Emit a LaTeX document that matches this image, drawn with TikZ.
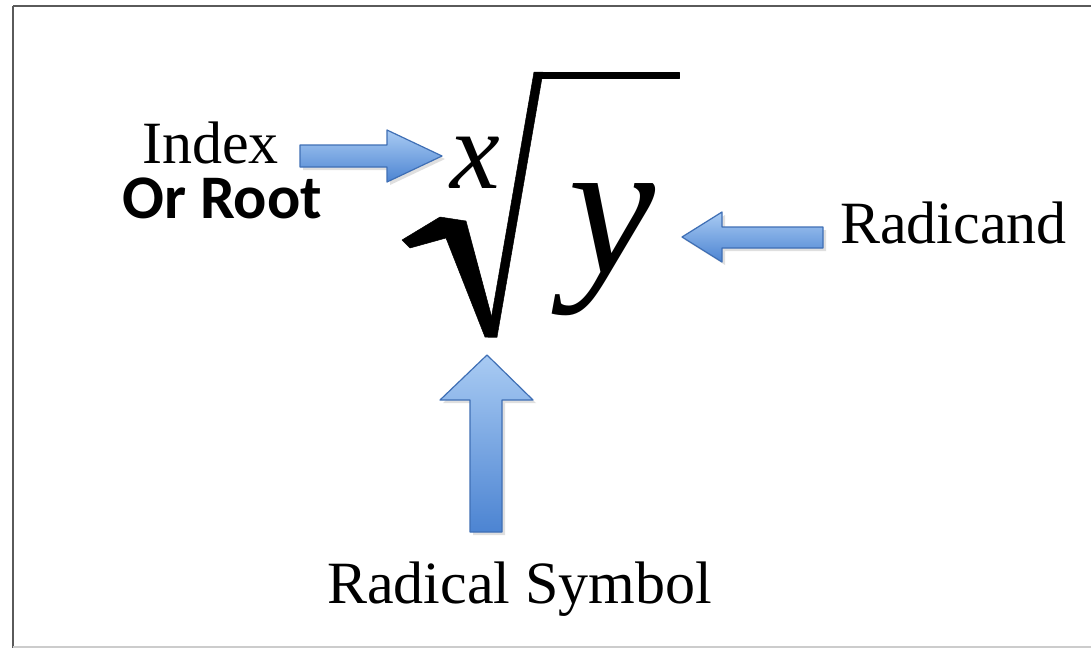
\documentclass[tikz,border=0pt]{standalone}
\usepackage{fontspec}
\setmainfont{Liberation Serif}
\newfontfamily\calib{Carlito}
\usetikzlibrary{shadows}
\definecolor{arrowlight}{HTML}{A9CBF3}
\definecolor{arrowdark}{HTML}{4C84D2}
\definecolor{arrowedge}{HTML}{3F6FB5}
\definecolor{framegray}{HTML}{5A5A5A}
\tikzset{
  lbl/.style={inner sep=0pt, anchor=base west, font=\fontsize{60}{72}\selectfont},
  blockarrow/.style={draw=arrowedge, line width=1.2pt, line join=round, top color=arrowlight, bottom color=arrowdark,
    drop shadow={opacity=0.25, shadow xshift=3pt, shadow yshift=-3pt}},
  radical/.style={fill=black, draw=black, line width=0.5pt, line join=round}
}
\begin{document}
\begin{tikzpicture}[x=1pt, y=-1pt]
\useasboundingbox (0,0) rectangle (1091,648);
\fill[white] (0,0) rectangle (1091,648);
\draw[framegray, line width=2.5pt] (13,6) -- (1095,6);
\draw[framegray, line width=2.5pt] (13,6) -- (13,648);
\draw[gray!40, line width=1.5pt] (13,647) -- (1095,647);

% labels
\node[lbl] (index) at (142,163) {Index};
\node[lbl, font=\calib\bfseries\fontsize{62}{72}\selectfont] (orroot) at (122,218) {Or Root};
\node[lbl] (radicand) at (840,243) {Radicand};
\node[lbl] (radsym) at (327,603) {Radical Symbol};

% radical sign
\fill[radical] (402,240) -- (440,217) -- (466,221) -- (497,337) -- (485,337) -- (446,238) -- (410,248) -- cycle;
\fill[radical] (534,72) -- (543,72) -- (497,337) -- (488,337) -- cycle;
\fill[radical] (534,72) rectangle (679,78);
\node[inner sep=0pt, anchor=base, font=\itshape\fontsize{112}{120}\selectfont] (xidx) at (475,188) {x};
\node[inner sep=0pt, anchor=base, font=\itshape\fontsize{196}{210}\selectfont] (yrad) at (612,273) {y};

% block arrows
\path[blockarrow] (300,145) -- (387,145) -- (387,130) -- (442,156) -- (387,182) -- (387,167) -- (300,167) -- cycle;
\path[blockarrow] (823,227) -- (722,227) -- (722,212) -- (682,237) -- (722,262) -- (722,248) -- (823,248) -- cycle;
\path[blockarrow] (470,532) -- (470,400) -- (440,400) -- (487,355) -- (533,400) -- (502,400) -- (502,532) -- cycle;
\end{tikzpicture}
\end{document}
